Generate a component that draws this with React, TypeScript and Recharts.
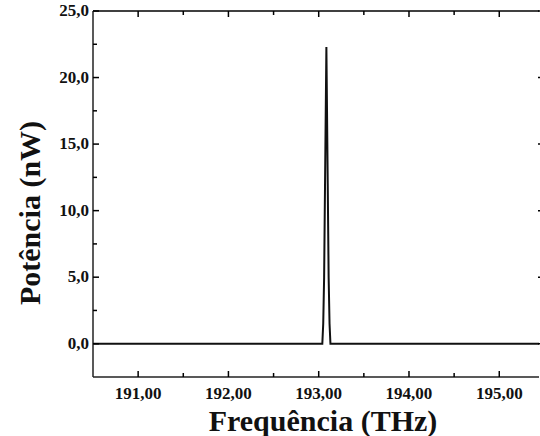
import React from 'react';
import {
    LineChart, Line, XAxis, YAxis, Label,
} from 'recharts';

// frequência (THz) e potência (nW)
const freq = [190.5, 193.04, 193.05, 193.06, 193.07, 193.085, 193.1, 193.11, 193.12, 193.13, 195.44];
const power = [0, 0, 1.5, 5, 12, 22.3, 12, 5, 1.5, 0, 0];

const xMajor = [191, 192, 193, 194, 195];
const xMinor = [191.5, 192.5, 193.5, 194.5];
const yMajor = [0, 5, 10, 15, 20, 25];
const yMinor = [2.5, 7.5, 12.5, 17.5, 22.5];

const data = freq.map((f, i) => ({ f, p: power[i] }));

const font = 'Liberation Serif, DejaVu Serif, serif';
const ink = '#111';
const axisColor = '#222';
const xDomain: [number, number] = [190.5, 195.44];
const yDomain: [number, number] = [-2.5, 25];
const xTicks = [...xMajor, ...xMinor].sort((a, b) => a - b);
const yTicks = [...yMajor, ...yMinor].sort((a, b) => a - b);

// ticks para dentro: maiores 6px, menores 4px
const tickLen = (v: number, major: number[]) => (major.includes(v) ? 6 : 4);

const BottomTick = (props: any) => {
    const { x, y, payload } = props;
    const v = payload.value as number;
    const major = xMajor.includes(v);
    return (
        <g>
            <path d={`M${x},${y}V${y - tickLen(v, xMajor)}`} stroke="black" strokeWidth={1.5} />
            {major && (
                <text x={x} y={y + 22} textAnchor="middle" style={{ fontFamily: font }} fontWeight={700} fontSize={17} fill={ink}>
                    {v.toFixed(2).replace('.', ',')}
                </text>
            )}
        </g>
    );
};

const TopTick = (props: any) => {
    const { x, y, payload } = props;
    const v = payload.value as number;
    return <path d={`M${x},${y}V${y + tickLen(v, xMajor)}`} stroke="black" strokeWidth={1.5} />;
};

const LeftTick = (props: any) => {
    const { x, y, payload } = props;
    const v = payload.value as number;
    const major = yMajor.includes(v);
    return (
        <g>
            <path d={`M${x},${y}H${x + tickLen(v, yMajor)}`} stroke="black" strokeWidth={1.5} />
            {major && (
                <text x={x - 4} y={y + 5} textAnchor="end" style={{ fontFamily: font }} fontWeight={700} fontSize={17} fill={ink}>
                    {v.toFixed(1).replace('.', ',')}
                </text>
            )}
        </g>
    );
};

// eixo direito fora da imagem: só a ponta dos ticks maiores aparece
const RightTick = (props: any) => {
    const { x, y, payload } = props;
    const v = payload.value as number;
    const edge = x + 5;
    return <path d={`M${edge},${y}H${edge - tickLen(v, yMajor)}`} stroke="black" strokeWidth={1.5} />;
};

export default function App() {
    return (
        <div style={{
            position: 'absolute', left: 0, top: 0, width: 540, height: 436, overflow: 'hidden', background: '#fff',
        }}
        >
            <LineChart
                width={540}
                height={436}
                data={data}
                margin={{ top: 10, right: 0, left: 13, bottom: 0 }}
            >
                <XAxis
                    xAxisId="b"
                    dataKey="f"
                    type="number"
                    domain={xDomain}
                    ticks={xTicks}
                    interval={0}
                    height={59}
                    stroke={axisColor}
                    strokeWidth={1.5}
                    tickLine={false}
                    tickSize={0}
                    tickMargin={0}
                    tick={<BottomTick />}
                    allowDataOverflow
                >
                    <Label
                        content={() => (
                            <text x={323} y={431} textAnchor="middle" style={{ fontFamily: font }} fontWeight={700} fontSize={30} fill={ink}>
                                Frequência (THz)
                            </text>
                        )}
                    />
                </XAxis>
                <XAxis
                    xAxisId="t"
                    dataKey="f"
                    orientation="top"
                    type="number"
                    domain={xDomain}
                    ticks={xTicks}
                    interval={0}
                    height={1}
                    stroke="black"
                    strokeWidth={1.5}
                    tickLine={false}
                    tickSize={0}
                    tickMargin={0}
                    tick={<TopTick />}
                    allowDataOverflow
                />
                <YAxis
                    yAxisId="l"
                    type="number"
                    domain={yDomain}
                    ticks={yTicks}
                    interval={0}
                    width={80}
                    stroke={axisColor}
                    strokeWidth={1.5}
                    tickLine={false}
                    tickSize={0}
                    tickMargin={0}
                    tick={<LeftTick />}
                    allowDataOverflow
                >
                    <Label
                        content={() => (
                            <text
                                x={40}
                                y={213}
                                transform="rotate(-90 40 213)"
                                textAnchor="middle"
                                style={{ fontFamily: font }}
                                fontWeight={700}
                                fontSize={30}
                                fill={ink}
                            >
                                Potência (nW)
                            </text>
                        )}
                    />
                </YAxis>
                <YAxis
                    yAxisId="r"
                    orientation="right"
                    type="number"
                    domain={yDomain}
                    ticks={yTicks}
                    interval={0}
                    width={1}
                    stroke="black"
                    axisLine={false}
                    tickLine={false}
                    tickSize={0}
                    tickMargin={0}
                    tick={<RightTick />}
                    allowDataOverflow
                />
                {/* série invisível só para ligar os eixos de cima e da direita */}
                <Line xAxisId="t" yAxisId="r" dataKey="p" stroke="none" dot={false} isAnimationActive={false} />
                <Line
                    xAxisId="b"
                    yAxisId="l"
                    dataKey="p"
                    type="linear"
                    stroke={ink}
                    strokeWidth={2}
                    dot={false}
                    isAnimationActive={false}
                />
            </LineChart>
        </div>
    );
}
